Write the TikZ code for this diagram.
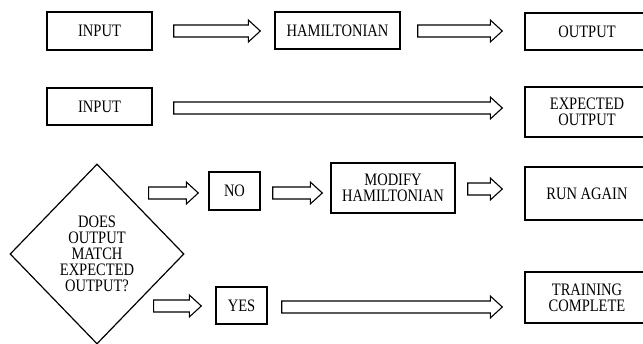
\documentclass[tikz,border=0pt]{standalone}
\usepackage{fontspec}
\setmainfont{Liberation Serif}[FakeStretch=0.83]
\usetikzlibrary{shapes.geometric,calc}

% hollow block arrow from #1 to #2 (height taken from #1)
\newcommand{\blockarrow}[2]{%
  \draw[blk] let \p1=#1, \p2=#2 in
    (\x1,\y1+6pt) -- (\x2-12pt,\y1+6pt) -- (\x2-12pt,\y1+11pt) -- (\x2,\y1)
    -- (\x2-12pt,\y1-11pt) -- (\x2-12pt,\y1-6pt) -- (\x1,\y1-6pt) -- cycle;}

\begin{document}
\begin{tikzpicture}[x=1pt,y=-1pt,font=\fontsize{17.5}{16}\selectfont,
  box/.style={draw,line width=1.4pt,align=center,inner sep=2pt},
  dia/.style={diamond,draw,line width=1.2pt,align=center,inner sep=0pt,minimum width=174pt,minimum height=180pt},
  blk/.style={draw,line width=1.1pt,fill=white,line join=miter}]
\useasboundingbox[fill=white] (0,0) rectangle (643,344);
% first run
\node[box,minimum width=105pt,minimum height=38pt] (in1) at (99.5,31) {INPUT};
\node[box,minimum width=125pt,minimum height=37pt] (ham) at (337.5,30.5) {HAMILTONIAN};
\node[box,minimum width=124pt,minimum height=37pt] (out) at (587,31.5) {OUTPUT};
% expected
\node[box,minimum width=105pt,minimum height=37pt] (in2) at (99.5,106.5) {INPUT};
\node[box,minimum width=124pt,minimum height=50pt] (exp) at (587,112) {EXPECTED\\OUTPUT};
% decision
\node[dia] (dec) at (97,254) {DOES\\OUTPUT\\MATCH\\EXPECTED\\OUTPUT?};
\node[box,minimum width=51pt,minimum height=38pt] (no) at (234.5,191) {NO};
\node[box,minimum width=124pt,minimum height=50pt] (mod) at (393,188) {MODIFY\\HAMILTONIAN};
\node[box,minimum width=124pt,minimum height=53pt] (run) at (587,193.5) {RUN AGAIN};
\node[box,minimum width=51pt,minimum height=37pt] (yes) at (241.5,305.5) {YES};
\node[box,minimum width=124pt,minimum height=51pt] (train) at (587,297.5) {TRAINING\\COMPLETE};
% arrows
\blockarrow{($(in1.east)+(21,0)$)}{($(ham.west)-(14,0)$)}
\blockarrow{($(ham.east)+(17,0.5)$)}{($(out.west)-(22,0)$)}
\blockarrow{($(in2.east)+(21,1.5)$)}{($(exp.west)-(22,0)$)}
\blockarrow{($(dec.east |- no.west)+(-36,2)$)}{($(no.west)-(10,0)$)}
\blockarrow{($(no.east)+(12,2)$)}{($(mod.west)-(8,0)$)}
\blockarrow{($(mod.east)+(12,1)$)}{($(run.west)-(22,0)$)}
\blockarrow{($(dec.east |- yes.west)+(-31,0.5)$)}{($(yes.west)-(14,0)$)}
\blockarrow{($(yes.east)+(14,1.5)$)}{($(train.west)-(22,0)$)}
\end{tikzpicture}
\end{document}
